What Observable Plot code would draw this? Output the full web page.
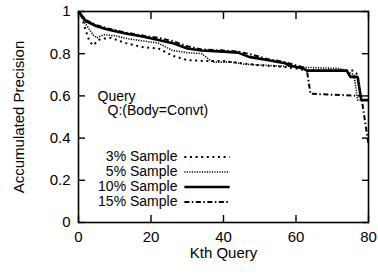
<!DOCTYPE html>
<html><head><meta charset="utf-8">
<script src="https://cdn.jsdelivr.net/npm/d3@7"></script>
<script src="https://cdn.jsdelivr.net/npm/@observablehq/plot@0.6"></script>
<style>body{margin:0;background:#fff}</style>
</head><body><div id="chart"></div>
<script>
// Series: 3% Sample (coarse dots)
const kth3  = [0, 1, 2, 3, 4, 6, 9, 13, 18, 22, 26, 30, 35, 40, 45, 50, 55, 60, 63, 76, 77, 78, 80];
const prec3 = [1.0, 0.97, 0.91, 0.86, 0.84, 0.87, 0.875, 0.85, 0.83, 0.825, 0.79, 0.77, 0.765, 0.765, 0.755, 0.745, 0.74, 0.73, 0.72, 0.72, 0.70, 0.58, 0.58];
// 5% Sample (fine dots)
const kth5  = [0, 2, 4, 5, 7, 10, 14, 18, 22, 26, 30, 34, 37, 42, 46, 52, 57, 63, 72, 74, 76, 77, 80];
const prec5 = [1.0, 0.94, 0.89, 0.875, 0.89, 0.885, 0.87, 0.86, 0.85, 0.815, 0.805, 0.80, 0.76, 0.76, 0.75, 0.745, 0.74, 0.735, 0.73, 0.715, 0.70, 0.58, 0.58];
// 10% Sample (solid)
const kth10  = [0, 2, 5, 8, 13, 18, 22, 26, 30, 34, 40, 44, 47, 52, 57, 58, 62, 63, 74, 75, 77, 78, 80];
const prec10 = [1.0, 0.955, 0.93, 0.915, 0.896, 0.88, 0.865, 0.85, 0.825, 0.815, 0.81, 0.805, 0.785, 0.77, 0.755, 0.745, 0.73, 0.72, 0.72, 0.69, 0.69, 0.58, 0.58];
// 15% Sample (dash-dot)
const kth15  = [0, 2, 5, 8, 13, 18, 22, 26, 30, 34, 40, 44, 48, 52, 57, 62, 63, 64, 78, 80];
const prec15 = [1.0, 0.96, 0.935, 0.92, 0.90, 0.885, 0.875, 0.86, 0.835, 0.82, 0.815, 0.81, 0.795, 0.775, 0.76, 0.735, 0.72, 0.61, 0.60, 0.37];

const seriesNames = ["3% Sample", "5% Sample", "10% Sample", "15% Sample"];
const xTicks = [0, 20, 40, 60, 80];
const yTicks = [0, 0.2, 0.4, 0.6, 0.8, 1];
const titleLines = ["Query", "Q:(Body=Convt)"];

const styles = [
  {dash: "2,3.6", width: 2},
  {dash: "1.2,1.3", width: 1.6},
  {dash: null, width: 2.6},
  {dash: "5,2.5,1.5,2.5", width: 2}
];
const allK = [kth3, kth5, kth10, kth15];
const allV = [prec3, prec5, prec10, prec15];

const series = seriesNames.map((name, i) => allK[i].map((k, j) => ({name, k, v: allV[i][j]})));

// legend / annotation placement in data units
const legTextX = 27.3, legX1 = 29.2, legX2 = 41.7, legTop = 0.3104, legStep = 0.0711;
const legend = seriesNames.map((name, i) => ({name, y: legTop - i * legStep}));
const notes = [{t: titleLines[0], x: 5.24, y: 0.596}, {t: titleLines[1], x: 8.0, y: 0.530}];

const marks = [];
series.forEach((d, i) => {
  marks.push(Plot.line(d, {x: "k", y: "v", stroke: "black", strokeWidth: styles[i].width,
    strokeDasharray: styles[i].dash, strokeLinejoin: "miter", strokeLinecap: "butt"}));
  const L = legend[i];
  marks.push(Plot.line([{x: legX1, y: L.y}, {x: legX2, y: L.y}], {x: "x", y: "y", stroke: "black",
    strokeWidth: styles[i].width, strokeDasharray: styles[i].dash, strokeLinecap: "butt"}));
});
marks.push(Plot.text(legend, {x: () => legTextX, y: "y", text: "name", textAnchor: "end", lineAnchor: "middle", fill: "black", fontSize: 14, ariaLabel: "inner-text"}));
marks.push(Plot.text(notes, {x: "x", y: "y", text: "t", textAnchor: "start", lineAnchor: "middle", fill: "black", fontSize: 14, ariaLabel: "inner-text"}));

marks.push(Plot.frame({stroke: "black", strokeWidth: 1.6}));
marks.push(Plot.axisX(xTicks, {anchor: "bottom", tickSize: 0, tickPadding: 9, tickFormat: d => String(d), label: "Kth Query", labelAnchor: "center", labelArrow: "none", labelOffset: 35}));
marks.push(Plot.axisX(xTicks, {anchor: "bottom", tickSize: -7, fill: "none", label: null, strokeWidth: 1.4}));
marks.push(Plot.axisX(xTicks, {anchor: "top", tickSize: -7, fill: "none", label: null, strokeWidth: 1.4}));
marks.push(Plot.axisY(yTicks, {anchor: "left", tickSize: 0, tickPadding: 8, tickFormat: d => String(d), label: "Accumulated Precision", labelAnchor: "center", labelArrow: "none", labelOffset: 65}));
marks.push(Plot.axisY(yTicks, {anchor: "left", tickSize: -7, fill: "none", label: null, strokeWidth: 1.4}));
marks.push(Plot.axisY(yTicks, {anchor: "right", tickSize: -7, fill: "none", label: null, strokeWidth: 1.4}));

const chart = Plot.plot({
  width: 378, height: 274,
  marginLeft: 78, marginRight: 10, marginTop: 11, marginBottom: 52,
  x: {domain: [0, 80]},
  y: {domain: [0, 1]},
  style: {fontFamily: "'Liberation Sans', Arial, sans-serif", fontSize: "15px", background: "white", color: "black", overflow: "visible"},
  marks
});
d3.select(chart).selectAll('g[aria-label="inner-text"] text').attr("letter-spacing", "0.55px");
document.getElementById("chart").appendChild(chart);
</script>
</body></html>
